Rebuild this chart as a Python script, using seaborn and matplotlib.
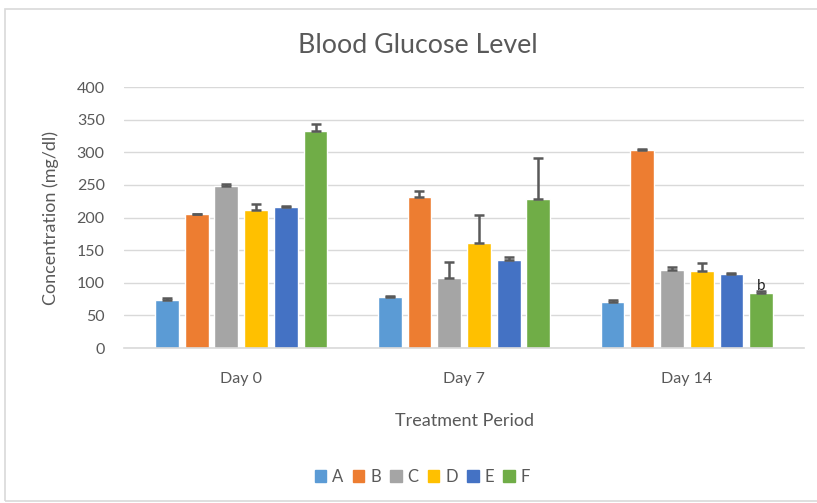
import matplotlib
matplotlib.use('Agg')
import matplotlib.pyplot as plt
import matplotlib.patches as mpatches
import pandas as pd
import seaborn as sns

days = ['Day 0', 'Day 7', 'Day 14']
groups = ['A', 'B', 'C', 'D', 'E', 'F']

# mean values per group, one list per day
day0 = [74, 205, 248, 212, 216, 332]
day7 = [78, 232, 107, 161, 135, 229]
day14 = [70, 304, 120, 118, 113, 84]

# upper error (only + side drawn)
err0 = [2, 1, 3, 9, 1, 12]
err7 = [2, 8, 25, 43, 5, 62]
err14 = [3, 1, 4, 13, 2, 3]

colors = ['#5B9BD5', '#ED7D31', '#A5A5A5', '#FFC000', '#4472C4', '#70AD47']
text_col = '#595959'

rows = []
for d, vals, errs in zip(days, [day0, day7, day14], [err0, err7, err14]):
    for g, v, e in zip(groups, vals, errs):
        rows.append({'day': d, 'group': g, 'value': v, 'err': e})
df = pd.DataFrame(rows)

sns.set_style('white')
plt.rcParams['font.family'] = ['Lato', 'DejaVu Sans']

fig = plt.figure(figsize=(8.17, 5.03), dpi=100)
ax = fig.add_axes([0.152, 0.308, 0.832, 0.519])

sns.barplot(data=df, x='day', y='value', hue='group', order=days, hue_order=groups,
            palette=colors, saturation=1, width=0.8, gap=0.2, errorbar=None,
            legend=False, ax=ax)

bar_conts = list(ax.containers)

# error bars on top of each bar
for cont, g in zip(bar_conts, groups):
    sub = df[df['group'] == g].set_index('day').loc[days]
    xs = [p.get_x() + p.get_width() / 2 for p in cont.patches]
    ax.errorbar(xs, sub['value'], yerr=[[0] * len(xs), sub['err']], fmt='none',
                ecolor=text_col, elinewidth=1.8, capsize=3.6, capthick=1.8, zorder=5)

# annotation on last bar
last = bar_conts[-1].patches[-1]
ax.text(last.get_x() + last.get_width() / 2, day14[-1] + 1, 'b', ha='center', va='bottom',
        fontsize=11, color='#222222')

ax.set_ylim(0, 400)
ax.set_yticks(range(0, 401, 50))
ax.yaxis.grid(True, color='#D9D9D9', linewidth=1)
ax.set_axisbelow(True)
for s in ['top', 'right', 'left']:
    ax.spines[s].set_visible(False)
ax.spines['bottom'].set_color('#D9D9D9')
ax.spines['bottom'].set_linewidth(1.2)
ax.tick_params(axis='both', length=0, labelsize=11.5, colors=text_col)
ax.tick_params(axis='y', pad=14)
ax.tick_params(axis='x', pad=17)

ax.set_xlabel('Treatment Period', fontsize=13, color=text_col, labelpad=20)
ax.set_ylabel('Concentration (mg/dl)', fontsize=13, color=text_col, labelpad=13)
fig.text(0.512, 0.91, 'Blood Glucose Level', ha='center', va='center',
         fontsize=19.3, color=text_col)

handles = [mpatches.Patch(color=c, label=g) for c, g in zip(colors, groups)]
fig.legend(handles=handles, loc='center', bbox_to_anchor=(0.517, 0.052), ncol=6,
           frameon=False, fontsize=12, handlelength=0.7, handleheight=0.7,
           handletextpad=0.35, columnspacing=0.55, labelcolor=text_col)

# outer chart border
fig.patches.append(mpatches.Rectangle((0.006, 0.004), 1.2, 0.978, transform=fig.transFigure,
                                      fill=False, edgecolor='#D9D9D9', linewidth=1.2))

fig.savefig('out.png', dpi=100)
